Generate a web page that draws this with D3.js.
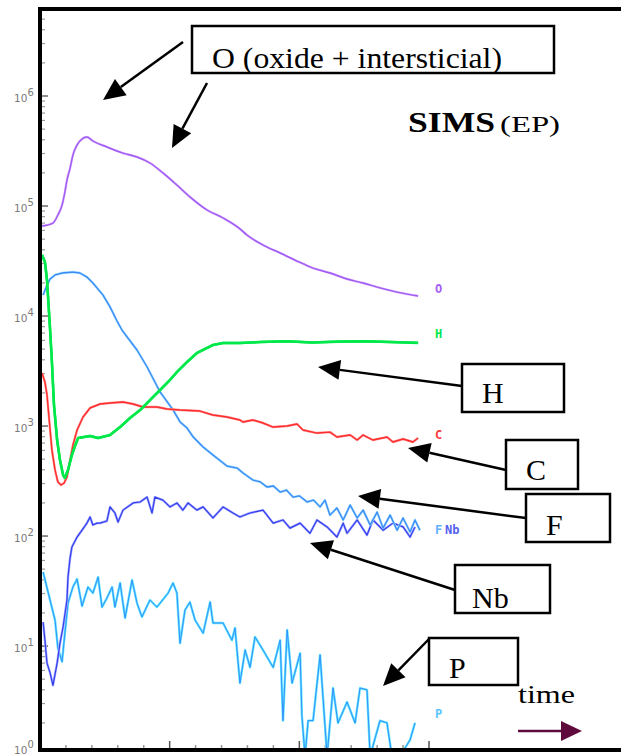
<!DOCTYPE html>
<html lang="en">
<head>
<meta charset="utf-8">
<title>SIMS (EP)</title>
<script src="https://cdnjs.cloudflare.com/ajax/libs/d3/7.8.5/d3.min.js"></script>
<style>
  body { margin: 0; background: #fff; }
  svg { display: block; }
</style>
</head>
<body>
<script>
// depth profile, counts vs time (arbitrary time units)
const tickExponents = [0, 1, 2, 3, 4, 5, 6];
const species = ["O", "H", "C", "F", "Nb", "P"];

const seriesO = [[0.08,65800],[0.5,70000],[0.69,82800],[0.85,102000],[0.96,134000],[1.04,172000],[1.16,221000],[1.27,291000],[1.43,359000],[1.62,407000],[1.81,424000],[2.04,390000],[2.58,344000],[3.2,303000],[3.74,279000],[4.24,246000],[4.74,200000],[5.28,155000],[5.78,121000],[6.44,92000],[7.06,77800],[7.71,62000],[7.98,54500],[8.6,44200],[9.26,37400],[9.91,31600],[10.53,27300],[11.18,24600],[11.84,21700],[12.46,19950],[13.11,18000],[13.77,16500],[14.58,15200]];

const seriesH = [[0.08,35900],[0.19,31000],[0.27,21250],[0.39,7460],[0.46,3820],[0.54,1550],[0.66,746],[0.77,491],[0.89,359],[0.96,337],[1.08,398],[1.23,545],[1.35,658],[1.47,778],[1.93,811],[2.24,778],[2.7,828],[3.09,979],[3.47,1183],[3.86,1397],[4.36,1836],[4.63,2124],[5.01,2620],[5.28,3097],[5.67,3820],[6.05,4610],[6.67,5450],[7.06,5690],[7.71,5690],[8.5,5800],[9.5,5900],[10.5,5750],[11.5,5850],[12.5,5900],[13.5,5800],[14.58,5700]];

const seriesC = [[0.08,3030],[0.19,2510],[0.27,1914],[0.39,920],[0.46,605],[0.58,398],[0.69,310],[0.81,291],[0.93,303],[1.04,344],[1.16,491],[1.27,671],[1.43,920],[1.66,1208],[1.93,1459],[2.31,1585],[2.7,1618],[3.2,1652],[3.59,1585],[3.97,1489],[4.51,1489],[4.9,1429],[5.4,1397],[6.17,1368],[6.67,1259],[7.21,1208],[7.71,1135],[7.83,1087],[8.21,1135],[8.6,1065],[8.99,979],[9.53,1000],[9.91,1043],[10.14,920],[10.68,863],[11.18,881],[11.45,794],[11.96,828],[12.23,746],[12.46,828],[12.84,746],[13.38,794],[13.61,716],[14.0,762],[14.38,716],[14.58,778]];

const seriesF = [[0.12,15500],[0.27,19100],[0.39,21700],[0.58,23600],[0.85,24600],[1.27,25100],[1.54,24600],[1.81,22600],[2.04,19950],[2.43,15500],[2.7,12100],[2.97,9010],[3.16,7460],[3.74,4910],[4.13,3440],[4.63,2040],[5.13,1400],[5.4,1090],[5.67,959],[5.91,794],[6.29,644],[6.67,545],[7.21,433],[7.6,415],[7.83,374],[8.21,323],[8.5,310],[8.75,279],[9.0,285],[9.26,251],[9.5,262],[9.76,226],[10.0,232],[10.3,204],[10.55,212],[10.8,184],[10.99,212],[11.18,155],[11.45,180],[11.69,140],[11.96,191],[12.23,146],[12.46,172],[12.73,126],[13.0,165],[13.23,118],[13.5,155],[13.77,113],[14.0,146],[14.27,109],[14.46,140],[14.65,113]];

const seriesNb = [[0.12,16.5],[0.19,11.3],[0.27,7.0],[0.39,5.7],[0.5,4.4],[0.66,7.0],[0.77,10.6],[0.89,14.9],[1.04,26.2],[1.08,42.4],[1.16,63.1],[1.23,79.4],[1.43,97.9],[1.62,113],[1.81,131],[1.93,149],[2.04,126],[2.2,131],[2.31,131],[2.58,137],[2.7,184],[2.89,162],[3.01,134],[3.2,172],[3.59,200],[3.86,204],[4.13,226],[4.32,162],[4.43,226],[4.74,212],[5.01,184],[5.28,200],[5.51,172],[5.71,200],[6.05,172],[6.29,184],[6.67,146],[7.06,184],[7.44,162],[7.71,149],[8.1,162],[8.6,172],[8.99,131],[9.37,140],[9.64,118],[10.03,131],[10.41,106],[10.68,140],[11.07,121],[11.45,98],[11.69,131],[11.84,106],[12.23,140],[12.61,102],[12.84,140],[13.23,113],[13.61,131],[14.0,121],[14.27,98],[14.46,121]];

const seriesP = [[0.12,47.1],[0.31,31.0],[0.58,17.2],[0.69,9.6],[0.85,7.2],[0.96,13.1],[1.08,24.6],[1.27,34.4],[1.43,40.6],[1.62,23.1],[1.85,34.4],[2.04,30.3],[2.24,42.4],[2.39,22.6],[2.58,27.3],[2.78,34.4],[2.89,22.6],[3.09,37.4],[3.28,18.0],[3.55,39.8],[3.74,24.6],[3.93,18.4],[4.24,26.2],[4.51,22.6],[4.82,27.9],[4.94,30.3],[5.13,37.4],[5.28,30.3],[5.4,10.6],[5.59,21.2],[5.78,25.1],[5.98,17.2],[6.29,13.1],[6.56,25.1],[6.67,16.2],[7.06,16.2],[7.4,11.3],[7.52,14.6],[7.71,4.6],[7.91,9.2],[8.1,6.4],[8.29,12.1],[8.6,9.2],[8.99,6.4],[9.26,11.3],[9.37,2.1],[9.53,14.0],[9.72,4.6],[10.03,8.6],[10.1,2.3],[10.22,1.0],[10.34,2.1],[10.53,2.1],[10.8,8.3],[11.07,1.0],[11.3,4.15],[11.49,2.0],[11.84,3.1],[12.15,2.0],[12.34,4.15],[12.61,4.0],[12.73,1.0],[13.11,2.1],[13.38,2.0],[13.57,1.0],[13.88,1.0],[14.27,1.4],[14.46,2.0]];

const width = 621, height = 755;

const svg = d3.select("body").append("svg")
  .attr("width", width)
  .attr("height", height);

svg.append("rect").attr("width", width).attr("height", height).attr("fill", "#fff");

const x = d3.scaleLinear().domain([0, 15]).range([40, 429]);
const y = d3.scaleLog().domain([Math.pow(10, 0.055), Math.pow(10, 6.8)]).range([750, 8]);

svg.append("clipPath").attr("id", "plot")
  .append("rect").attr("x", 42).attr("y", 11).attr("width", 579).attr("height", 737);

// minor / major ticks on the left axis
const yTicks = [];
tickExponents.forEach(e => { for (let k = 1; k < 10; k++) yTicks.push({ v: k * Math.pow(10, e), major: k === 1 }); });
yTicks.push({ v: 1e7, major: true });
svg.append("g").selectAll("line")
  .data(yTicks.filter(d => y(d.v) > 12 && y(d.v) < 748))
  .join("line")
  .attr("x1", 42).attr("x2", d => d.major ? 48 : 45)
  .attr("y1", d => y(d.v)).attr("y2", d => y(d.v))
  .attr("stroke", d => d.major ? "#444" : "#999")
  .attr("stroke-width", 1.2);

const yLab = svg.append("g").selectAll("text")
  .data(tickExponents)
  .join("text")
  .attr("x", 14).attr("y", d => Math.min(y(Math.pow(10, d)) + 6, 754))
  .attr("font-family", "DejaVu Sans, sans-serif")
  .attr("font-size", 10.5)
  .attr("fill", "#7a7a7a");
yLab.append("tspan").text("10");
yLab.append("tspan").attr("dy", -6).attr("font-size", 10).text(d => d);

// ticks on the bottom axis
svg.append("g").selectAll("line")
  .data(d3.range(1, 16))
  .join("line")
  .attr("x1", d => x(d)).attr("x2", d => x(d))
  .attr("y1", 748).attr("y2", d => d % 5 === 0 ? 741 : 745)
  .attr("stroke", d => d % 5 === 0 ? "#555" : "#999")
  .attr("stroke-width", 1.5);

// curves
const line = d3.line().x(d => x(d[0])).y(d => y(d[1]));
const smooth = d3.line().x(d => x(d[0])).y(d => y(d[1])).curve(d3.curveMonotoneX);
const plot = svg.append("g").attr("clip-path", "url(#plot)").attr("fill", "none")
  .attr("stroke-linejoin", "round");

const curves = [
  { data: seriesO, gen: smooth, halo: "#e4b8ff", color: "#9d5cf2", w: 1.4 },
  { data: seriesP, gen: line, halo: "#5ee6ff", color: "#2f86ff", w: 0.9 },
  { data: seriesNb, gen: line, halo: "#a9a9ff", color: "#3140ee", w: 1.2 },
  { data: seriesF, gen: line, halo: "#9fd8ff", color: "#3a8cf5", w: 1.3 },
  { data: seriesC, gen: line, halo: "#ffa0a0", color: "#ff2e2e", w: 1.4 },
  { data: seriesH, gen: line, halo: "#00e84a", color: "#00e84a", w: 2.6 }
];
curves.forEach(c => {
  plot.append("path").datum(c.data).attr("d", c.gen).attr("stroke", c.halo).attr("stroke-width", 2.4);
  plot.append("path").datum(c.data).attr("d", c.gen).attr("stroke", c.color).attr("stroke-width", c.w);
});

// small labels at the end of each profile
const endLabels = [
  { name: species[0], data: seriesO, dy: -3, color: "#a45cf0" },
  { name: species[1], data: seriesH, dy: -5, color: "#00e84a" },
  { name: species[2], data: seriesC, dy: 1, color: "#ff3a3a" },
  { name: species[3], data: seriesF, dy: 4, color: "#62b0ff" },
  { name: species[5], data: seriesP, dy: -5, color: "#5cc4ff" }
];
svg.append("g").selectAll("text")
  .data(endLabels)
  .join("text")
  .attr("x", 435)
  .attr("y", d => y(d.data[d.data.length - 1][1]) + d.dy)
  .attr("font-family", "DejaVu Sans Mono, monospace")
  .attr("font-size", 12).attr("font-weight", "bold")
  .attr("fill", d => d.color)
  .text(d => d.name);
svg.append("text")
  .attr("x", 445).attr("y", y(seriesF[seriesF.length - 1][1]) + 4)
  .attr("font-family", "DejaVu Sans Mono, monospace")
  .attr("font-size", 12).attr("font-weight", "bold")
  .attr("fill", "#5560ee").text(species[4]);

// frame
svg.append("path").attr("d", "M38,9H621M40,7V752M38,750H621")
  .attr("stroke", "#000").attr("stroke-width", 4).attr("fill", "none");

// annotations
const ann = svg.append("g");
function arrow(x1, y1, x2, y2) {
  const a = Math.atan2(y2 - y1, x2 - x1), L = 22, W = 10;
  const bx = x2 - L * Math.cos(a), by = y2 - L * Math.sin(a);
  ann.append("line").attr("x1", x1).attr("y1", y1).attr("x2", bx).attr("y2", by)
    .attr("stroke", "#000").attr("stroke-width", 2.5);
  ann.append("path")
    .attr("d", `M${x2},${y2}L${bx - W * Math.sin(a)},${by + W * Math.cos(a)}L${bx + W * Math.sin(a)},${by - W * Math.cos(a)}Z`)
    .attr("fill", "#000");
}
function box(bx, by, bw, bh, label, tx, ty) {
  ann.append("rect").attr("x", bx).attr("y", by).attr("width", bw).attr("height", bh)
    .attr("fill", "#fff").attr("stroke", "#000").attr("stroke-width", 2.5);
  ann.append("text").attr("x", tx).attr("y", ty)
    .attr("font-family", "Liberation Serif, serif").attr("font-size", 30)
    .text(label);
}

arrow(183, 42, 103, 100);
arrow(207, 83, 172, 148);
box(192, 26, 362, 47, "", 0, 0);
ann.append("text").attr("x", 212).attr("y", 68)
  .attr("font-family", "Liberation Serif, serif").attr("font-size", 29)
  .attr("textLength", 290).attr("lengthAdjust", "spacingAndGlyphs")
  .text("O (oxide + intersticial)");

ann.append("text").attr("x", 408).attr("y", 132)
  .attr("font-family", "Liberation Serif, serif").attr("font-size", 29)
  .attr("font-weight", "bold")
  .attr("textLength", 87).attr("lengthAdjust", "spacingAndGlyphs")
  .text("SIMS");
ann.append("text").attr("x", 500).attr("y", 132)
  .attr("font-family", "Liberation Serif, serif").attr("font-size", 23)
  .attr("textLength", 60).attr("lengthAdjust", "spacingAndGlyphs")
  .text("(EP)");

arrow(462, 386, 318, 367);
box(462, 364, 102, 48, "H", 482, 403);
arrow(506, 470, 408, 448);
box(506, 440, 72, 49, "C", 526, 480);
arrow(526, 518, 358, 496);
box(526, 494, 84, 48, "F", 546, 535);
arrow(455, 590, 310, 543);
box(455, 565, 95, 48, "Nb", 472, 608);
arrow(430, 638, 383, 686);
box(429, 638, 89, 47, "P", 449, 678);

ann.append("text").attr("x", 518).attr("y", 703)
  .attr("font-family", "Liberation Serif, serif").attr("font-size", 26)
  .attr("textLength", 57).attr("lengthAdjust", "spacingAndGlyphs")
  .text("time");
ann.append("line").attr("x1", 518).attr("y1", 731).attr("x2", 564).attr("y2", 731)
  .attr("stroke", "#5e0a3c").attr("stroke-width", 2.5);
ann.append("path").attr("d", "M582,731L561,721L561,741Z").attr("fill", "#5e0a3c");
</script>
</body>
</html>
